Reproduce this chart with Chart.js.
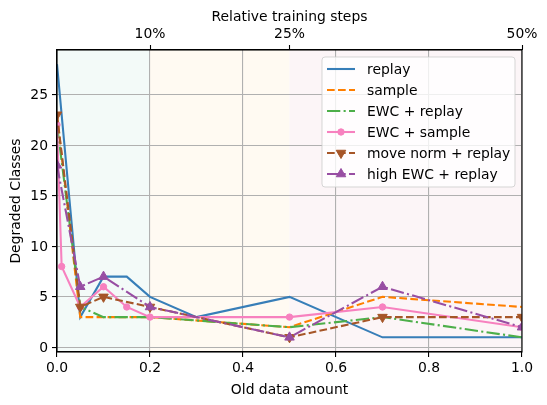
<!DOCTYPE html>
<html><head><meta charset="utf-8">
<script src="https://cdn.jsdelivr.net/npm/chart.js@4"></script>
<style>html,body{margin:0;padding:0;background:#fff}#wrap{width:547px;height:405px}</style>
</head><body><div id="wrap"><canvas id="c" width="547" height="405"></canvas></div>
<script>
// ---- data ----
const seriesNames = ['replay', 'sample', 'EWC + replay', 'EWC + sample', 'move norm + replay', 'high EWC + replay'];
const replayX = [0, 0.05, 0.1, 0.15, 0.2, 0.3, 0.5, 0.7, 1.0];
const replayY = [28, 3, 7, 7, 5, 3, 5, 1, 1];
const sampleX = [0, 0.05, 0.1, 0.2, 0.5, 0.7, 1.0];
const sampleY = [23, 3, 3, 3, 2, 5, 4];
const ewcReplayX = [0, 0.05, 0.1, 0.2, 0.5, 0.7, 1.0];
const ewcReplayY = [22, 4, 3, 3, 2, 3, 1];
const ewcSampleX = [0, 0.01, 0.05, 0.1, 0.15, 0.2, 0.5, 0.7, 1.0];
const ewcSampleY = [22, 8, 4, 6, 4, 3, 3, 4, 2];
const moveNormX = [0, 0.05, 0.1, 0.2, 0.5, 0.7, 1.0];
const moveNormY = [23, 4, 5, 4, 1, 3, 3];
const highEwcX = [0, 0.05, 0.1, 0.2, 0.5, 0.7, 1.0];
const highEwcY = [18, 6, 7, 4, 1, 6, 2];
const xTicks = [0, 0.2, 0.4, 0.6, 0.8, 1.0];
const yTicks = [0, 5, 10, 15, 20, 25];
const topTickValues = [0.2, 0.5, 1.0];
const topTickLabels = ['10%', '25%', '50%'];
const spanEdges = [0, 0.2, 0.5, 1.0];

// ---- styles ----
const FONT = 'DejaVu Sans';
const FS = 13.9;
const LW = 2.08;
const spanColors = ['#f3faf8', '#fffaf2', '#fcf5f7'];
const styles = [
  {color: '#377eb8', dash: [], marker: null},
  {color: '#ff7f00', dash: [7.7, 3.3], marker: null},
  {color: '#4daf4a', dash: [13.3, 3.3, 2.1, 3.3], marker: null},
  {color: '#f781bf', dash: [], marker: 'circle', r: 3.2, rot: 0},
  {color: '#a65628', dash: [7.7, 3.3], marker: 'triangle', r: 5.5, rot: 180},
  {color: '#984ea3', dash: [13.3, 3.3, 2.1, 3.3], marker: 'triangle', r: 5.5, rot: 0}
];
const seriesX = [replayX, sampleX, ewcReplayX, ewcSampleX, moveNormX, highEwcX];
const seriesY = [replayY, sampleY, ewcReplayY, ewcSampleY, moveNormY, highEwcY];

const datasets = seriesNames.map((name, i) => {
  const s = styles[i];
  return {
    label: name,
    data: seriesX[i].map((x, j) => ({x: x, y: seriesY[i][j]})),
    borderColor: s.color,
    backgroundColor: s.color,
    borderWidth: LW,
    borderDash: s.dash,
    pointStyle: s.marker || 'circle',
    pointRadius: s.marker ? s.r : 0,
    pointHoverRadius: s.marker ? s.r : 0,
    pointRotation: s.rot || 0,
    pointBorderWidth: 1,
    pointBackgroundColor: s.color,
    pointBorderColor: s.color,
    tension: 0,
    fill: false,
    clip: 0,
    order: seriesNames.length - i
  };
});

function drawMarker(ctx, s, x, y) {
  ctx.save();
  ctx.setLineDash([]);
  ctx.fillStyle = s.color; ctx.strokeStyle = s.color; ctx.lineWidth = 1;
  ctx.beginPath();
  if (s.marker === 'circle') {
    ctx.arc(x, y, s.r, 0, Math.PI * 2);
  } else {
    const r = s.r, rad = (s.rot || 0) * Math.PI / 180;
    for (let k = 0; k < 3; k++) {
      const a = rad + k * 2 * Math.PI / 3;
      const px = x + Math.sin(a) * r, py = y - Math.cos(a) * r;
      if (k === 0) ctx.moveTo(px, py); else ctx.lineTo(px, py);
    }
    ctx.closePath();
  }
  ctx.fill(); ctx.stroke();
  ctx.restore();
}

const decor = {
  id: 'decor',
  beforeDraw(chart) {
    const {ctx, chartArea: a, scales: {x}} = chart;
    ctx.save();
    for (let i = 0; i < spanColors.length; i++) {
      const x0 = x.getPixelForValue(spanEdges[i]);
      const x1 = x.getPixelForValue(spanEdges[i + 1]);
      ctx.fillStyle = spanColors[i];
      ctx.fillRect(x0, a.top, x1 - x0, a.bottom - a.top);
    }
    ctx.restore();
  },
  afterDatasetsDraw(chart) {
    const {ctx, chartArea: a} = chart;
    ctx.save();
    ctx.strokeStyle = '#000'; ctx.lineWidth = 1.1;
    ctx.strokeRect(a.left, a.top, a.right - a.left, a.bottom - a.top);
    ctx.restore();
  },
  afterDraw(chart) {
    const {ctx} = chart;
    const bx = 322, by = 57, bw = 193, bh = 130, rr = 3;
    ctx.save();
    ctx.beginPath();
    ctx.moveTo(bx + rr, by);
    ctx.arcTo(bx + bw, by, bx + bw, by + bh, rr);
    ctx.arcTo(bx + bw, by + bh, bx, by + bh, rr);
    ctx.arcTo(bx, by + bh, bx, by, rr);
    ctx.arcTo(bx, by, bx + bw, by, rr);
    ctx.closePath();
    ctx.fillStyle = 'rgba(255,255,255,0.8)';
    ctx.fill();
    ctx.strokeStyle = 'rgba(204,204,204,0.8)';
    ctx.lineWidth = 1;
    ctx.stroke();
    seriesNames.forEach((name, i) => {
      const s = styles[i];
      const yy = by + 12 + i * 21;
      ctx.save();
      ctx.strokeStyle = s.color; ctx.lineWidth = LW; ctx.setLineDash(s.dash);
      ctx.beginPath(); ctx.moveTo(327, yy); ctx.lineTo(355, yy); ctx.stroke();
      ctx.restore();
      if (s.marker) drawMarker(ctx, s, 341, yy);
      ctx.fillStyle = '#000';
      ctx.font = FS + 'px "' + FONT + '"';
      ctx.textBaseline = 'middle';
      ctx.textAlign = 'left';
      ctx.fillText(name, 367, yy + 1);
    });
    ctx.restore();
  }
};

const tickFont = {family: FONT, size: FS, lineHeight: 1};
new Chart(document.getElementById('c'), {
  type: 'line',
  data: {datasets: datasets},
  plugins: [decor],
  options: {
    responsive: false,
    animation: false,
    devicePixelRatio: 1,
    events: [],
    layout: {padding: {left: 0, right: 25, top: 0, bottom: 0}},
    plugins: {legend: {display: false}, tooltip: {enabled: false}},
    scales: {
      x: {
        type: 'linear', position: 'bottom', min: 0, max: 1,
        afterBuildTicks: s => { s.ticks = xTicks.map(v => ({value: v})); },
        afterFit: s => { s.height = 53; },
        ticks: {font: tickFont, color: '#000', padding: 4, maxRotation: 0, autoSkip: false,
          callback: v => Number(v).toFixed(1)},
        grid: {color: '#b0b0b0', lineWidth: 1.1, tickColor: '#000', tickLength: 5, tickWidth: 1.1},
        border: {display: true, color: '#000', width: 1.1},
        title: {display: true, text: 'Old data amount', font: tickFont, color: '#000', padding: {top: 0, bottom: 8}}
      },
      x2: {
        type: 'linear', position: 'top', min: 0, max: 1,
        afterBuildTicks: s => { s.ticks = topTickValues.map(v => ({value: v})); },
        afterFit: s => { s.height = 50; },
        ticks: {font: tickFont, color: '#000', padding: 4, maxRotation: 0, autoSkip: false,
          callback: v => topTickLabels[topTickValues.indexOf(v)]},
        grid: {drawOnChartArea: false, tickColor: '#000', tickLength: 5, tickWidth: 1.1},
        border: {display: true, color: '#000', width: 1.1},
        title: {display: true, text: 'Relative training steps', font: tickFont, color: '#000', padding: {top: 10, bottom: 0}}
      },
      y: {
        type: 'linear', position: 'left', min: -0.45, max: 29.4,
        afterBuildTicks: s => { s.ticks = yTicks.map(v => ({value: v})); },
        afterFit: s => { s.width = 57; },
        ticks: {font: tickFont, color: '#000', padding: 4, labelOffset: 1, callback: v => String(v)},
        grid: {color: '#b0b0b0', lineWidth: 1.1, tickColor: '#000', tickLength: 5, tickWidth: 1.1},
        border: {display: true, color: '#000', width: 1.1},
        title: {display: true, text: 'Degraded Classes', font: tickFont, color: '#000', padding: {top: 9, bottom: 0}}
      }
    }
  }
});
</script></body></html>
